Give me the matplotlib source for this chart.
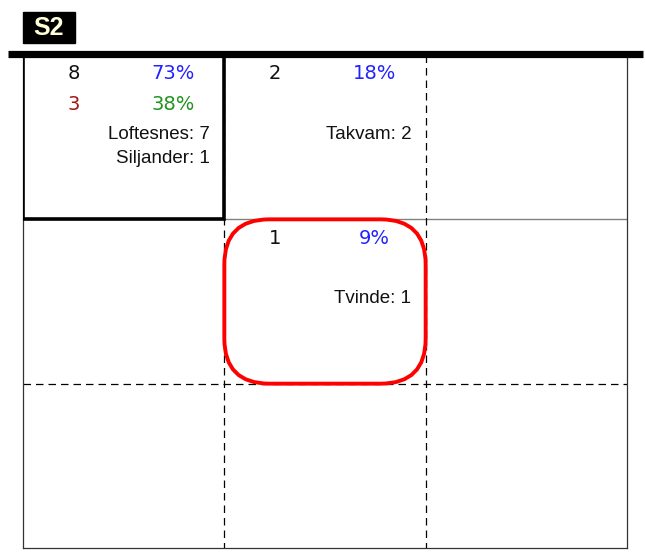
import matplotlib
matplotlib.use("Agg")
import matplotlib.pyplot as plt
from matplotlib.patches import Rectangle, FancyBboxPatch
from matplotlib.lines import Line2D


# 3x3 matrix, row 0 at top
CELL_ROWS = [0, 0, 1]
CELL_COLS = [0, 1, 1]
COUNTS = [8, 2, 1]
SHARES = [73, 18, 9]
SUB_COUNTS = [3, None, None]
SUB_SHARES = [38, None, None]
NAMES = [["Loftesnes", "Siljander"], ["Takvam"], ["Tvinde"]]
NAME_COUNTS = [[7, 1], [2], [1]]

BOX_CELL = (0, 0)
RING_CELL = (1, 1)
TITLE = "S2"

W, H = 645, 552
GRID_L, GRID_R, GRID_T, GRID_B = 23, 627, 55, 548

LABEL_FONT = ["Liberation Sans", "DejaVu Sans"]
NUM_FONT = ["DejaVu Sans"]


def main():
    fig = plt.figure(figsize=(W / 100, H / 100), dpi=100)
    ax = fig.add_axes([GRID_L / W, 1 - GRID_B / H, (GRID_R - GRID_L) / W, (GRID_B - GRID_T) / H])
    ax.set_xlim(0, 3)
    ax.set_ylim(3, 0)
    ax.set_xticks([])
    ax.set_yticks([])
    for side in ["left", "right", "bottom"]:
        ax.spines[side].set_linewidth(0.9)
        ax.spines[side].set_color("#333333")
    ax.spines["top"].set_visible(False)

    # inner grid lines
    ax.plot([0, 3], [1, 1], color="#808080", lw=1.0)
    ax.plot([0, 3], [2, 2], color="black", lw=0.9, dashes=(6, 4))
    ax.plot([1, 1], [0, 3], color="black", lw=0.9, dashes=(6, 4))
    ax.plot([2, 2], [0, 3], color="black", lw=0.9, dashes=(6, 4))

    # thick box around highlighted cell
    r, c = BOX_CELL
    ax.add_patch(Rectangle((c, r), 1, 1, fill=False, ec="black", lw=2.6, zorder=4))

    # red rounded ring
    r, c = RING_CELL
    xpx = (GRID_R - GRID_L) / 3
    ypx = (GRID_B - GRID_T) / 3
    ax.add_patch(FancyBboxPatch((c, r), 1, 1,
                                boxstyle="round,pad=0,rounding_size=%.3f" % (45 / xpx),
                                mutation_aspect=xpx / ypx,
                                fill=False, ec="red", lw=2.8, zorder=5))

    for i in range(len(COUNTS)):
        r, c = CELL_ROWS[i], CELL_COLS[i]
        ax.text(c + 0.25, r + 0.115, str(COUNTS[i]), ha="center", va="center",
                fontsize=14, family=NUM_FONT, color="#111111", zorder=6)
        ax.text(c + 0.747, r + 0.115, "%d%%" % SHARES[i], ha="center", va="center",
                fontsize=14, family=NUM_FONT, color="#2222ff", zorder=6)
        if SUB_COUNTS[i] is not None:
            ax.text(c + 0.25, r + 0.302, str(SUB_COUNTS[i]), ha="center", va="center",
                    fontsize=14, family=NUM_FONT, color="#a01515", zorder=6)
            ax.text(c + 0.747, r + 0.302, "%d%%" % SUB_SHARES[i], ha="center", va="center",
                    fontsize=14, family=NUM_FONT, color="#1f951f", zorder=6)
        for j, (name, n) in enumerate(zip(NAMES[i], NAME_COUNTS[i])):
            ax.text(c + 0.928, r + 0.482 + j * 0.146, "%s: %d" % (name, n),
                    ha="right", va="center", fontsize=13.5, family=LABEL_FONT,
                    color="#111111", zorder=6)

    # thick top rule
    fig.add_artist(Line2D([8 / W, 643 / W], [1 - 53.5 / H] * 2, color="black", lw=5.2,
                          solid_capstyle="butt"))

    # title tag
    fig.add_artist(Rectangle((23 / W, 1 - 43 / H), 52 / W, 31 / H, color="black",
                             transform=fig.transFigure))
    fig.text(49 / W, 1 - 28 / H, TITLE, ha="center", va="center", fontsize=18,
             fontweight="bold", family=LABEL_FONT, color="#ffffd8")

    fig.savefig("out.png", dpi=100)


if __name__ == "__main__":
    main()
